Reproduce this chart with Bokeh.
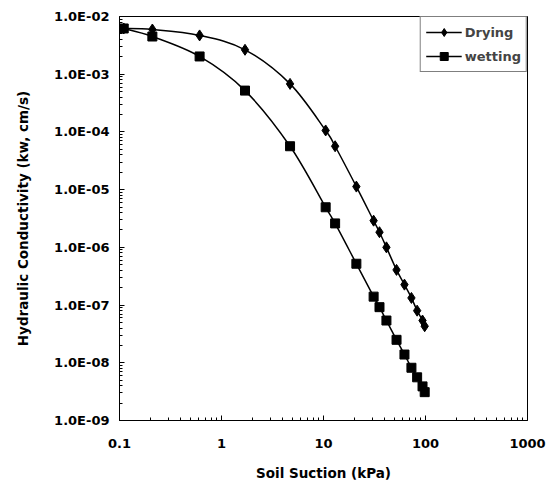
import numpy as np
from bokeh.plotting import figure
from bokeh.models import FixedTicker, CustomJSTickFormatter, Range1d
from bokeh.embed import file_html
from bokeh.resources import INLINE

# Soil suction (kPa) and hydraulic conductivity (cm/s)
suction_kpa = [0.11, 0.21, 0.61, 1.7, 4.7, 10.5, 13.0, 21.0, 31.0, 35.4, 41.4,
               52.0, 62.2, 72.8, 82.8, 93.5, 98.2]
k_drying = [6.2e-3, 5.95e-3, 4.7e-3, 2.65e-3, 6.8e-4, 1.06e-4, 5.65e-5, 1.13e-5,
            2.9e-6, 1.83e-6, 1.0e-6, 4.07e-7, 2.26e-7, 1.33e-7, 8.0e-8, 5.4e-8, 4.3e-8]
k_wetting = [6.2e-3, 4.5e-3, 2.03e-3, 5.2e-4, 5.65e-5, 4.95e-6, 2.6e-6, 5.2e-7,
             1.4e-7, 9.2e-8, 5.4e-8, 2.5e-8, 1.39e-8, 8.2e-9, 5.6e-9, 3.9e-9, 3.1e-9]

x_ticks = [0.1, 1, 10, 100, 1000]
x_tick_labels = ["0.1", "1", "10", "100", "1000"]
y_ticks = [1e-9, 1e-8, 1e-7, 1e-6, 1e-5, 1e-4, 1e-3, 1e-2]

FONT = "DejaVu Sans"

p = figure(width=551, height=490, x_axis_type="log", y_axis_type="log",
           output_backend="svg", toolbar_location=None,
           x_range=Range1d(0.1, 1000), y_range=Range1d(1e-9, 1e-2),
           min_border_left=119, min_border_right=24,
           min_border_top=16, min_border_bottom=70)

p.xgrid.visible = False
p.ygrid.visible = False
p.outline_line_color = "black"
p.outline_line_width = 1
p.background_fill_color = "white"
p.border_fill_color = "white"


def minor_ticks(lo_exp, hi_exp):
    out = []
    for e in range(lo_exp, hi_exp):
        for m in range(2, 10):
            out.append(m * 10.0 ** e)
    return out


p.xaxis.ticker = FixedTicker(ticks=x_ticks, minor_ticks=minor_ticks(-1, 3))
p.yaxis.ticker = FixedTicker(ticks=y_ticks, minor_ticks=minor_ticks(-9, -2))

p.xaxis.formatter = CustomJSTickFormatter(
    args=dict(vals=x_ticks, labels=x_tick_labels),
    code="""
    for (let i = 0; i < vals.length; i++) {
        if (Math.abs(Math.log10(tick) - Math.log10(vals[i])) < 1e-6) return labels[i];
    }
    return "";
""")
p.yaxis.formatter = CustomJSTickFormatter(code="""
    const e = Math.round(Math.log10(tick));
    const s = e < 0 ? "-" : "+";
    return "1.0E" + s + String(Math.abs(e)).padStart(2, "0");
""")

for ax in (p.xaxis, p.yaxis):
    ax.major_tick_in = 5
    ax.major_tick_out = 0
    ax.minor_tick_in = 3
    ax.minor_tick_out = 0
    ax.axis_line_color = "black"
    ax.major_tick_line_color = "black"
    ax.minor_tick_line_color = "black"
    ax.major_label_text_font = FONT
    ax.major_label_text_font_style = "bold"
    ax.major_label_text_font_size = "13px"
    ax.major_label_text_color = "black"
    ax.axis_label_text_font = FONT
    ax.axis_label_text_font_style = "bold"
    ax.axis_label_text_font_size = "13.5px"
    ax.axis_label_text_color = "black"

p.xaxis.major_label_standoff = 18
p.yaxis.major_label_standoff = 10
p.xaxis.axis_label = "Soil Suction (kPa)"
p.yaxis.axis_label = "Hydraulic Conductivity (kw, cm/s)"
p.xaxis.axis_label_standoff = 14
p.yaxis.axis_label_standoff = 20


def smooth_segments(xs, ys):
    """Catmull-Rom curve through the points, as cubic Bezier control points in log space."""
    lx = np.log10(np.asarray(xs, dtype=float))
    ly = np.log10(np.asarray(ys, dtype=float))
    n = len(lx)
    px = np.concatenate([[lx[0]], lx, [lx[-1]]])
    py = np.concatenate([[ly[0]], ly, [ly[-1]]])
    seg = dict(x0=[], y0=[], x1=[], y1=[], cx0=[], cy0=[], cx1=[], cy1=[])
    for i in range(n - 1):
        a, b, c, d = i, i + 1, i + 2, i + 3
        seg["x0"].append(10 ** px[b]); seg["y0"].append(10 ** py[b])
        seg["x1"].append(10 ** px[c]); seg["y1"].append(10 ** py[c])
        seg["cx0"].append(10 ** (px[b] + (px[c] - px[a]) / 6))
        seg["cy0"].append(10 ** (py[b] + (py[c] - py[a]) / 6))
        seg["cx1"].append(10 ** (px[c] - (px[d] - px[b]) / 6))
        seg["cy1"].append(10 ** (py[c] - (py[d] - py[b]) / 6))
    return seg


# Drying branch
p.bezier(**smooth_segments(suction_kpa, k_drying), line_color="black",
         line_width=1.5, legend_label="Drying")
p.scatter(suction_kpa, k_drying, marker="diamond", size=11, fill_color="black",
          line_color="black", legend_label="Drying")

# Wetting branch
p.bezier(**smooth_segments(suction_kpa, k_wetting), line_color="black",
         line_width=1.5, legend_label="wetting")
p.scatter(suction_kpa, k_wetting, marker="square", size=9, fill_color="black",
          line_color="black", legend_label="wetting")

p.legend.location = "top_right"
p.legend.margin = 0
p.legend.border_line_color = "black"
p.legend.border_line_width = 1
p.legend.glyph_width = 36
p.legend.label_text_font = FONT
p.legend.label_text_font_style = "bold"
p.legend.label_text_font_size = "13px"
p.legend.label_standoff = 3
p.legend.spacing = 4
p.legend.padding = 5
p.legend.background_fill_alpha = 1

open("out.html", "w").write(file_html(p, INLINE))
